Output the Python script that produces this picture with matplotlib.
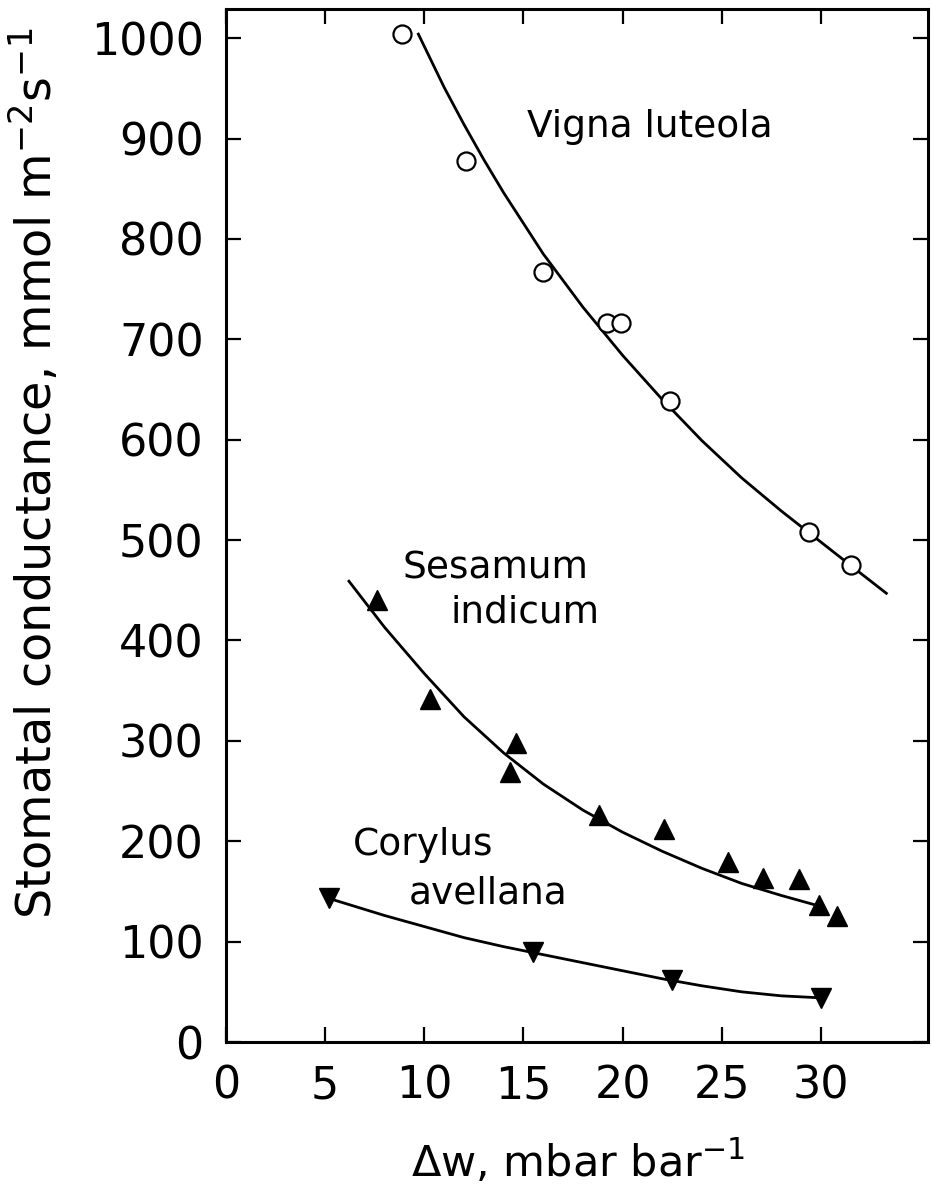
import matplotlib
matplotlib.use("Agg")
import matplotlib.pyplot as plt

# Vigna luteola (open circles) and its fitted curve
vigna_x = [8.9, 12.1, 16.0, 19.2, 19.9, 22.4, 29.4, 31.5]
vigna_y = [1004, 878, 767, 716, 716, 639, 508, 475]
vigna_fit_x = [9.7, 11, 12, 13, 14, 16, 18, 20, 22, 24, 26, 28, 30, 32, 33.3]
vigna_fit_y = [1004, 951, 914, 879, 846, 785, 732, 684, 640, 599, 562,
               529, 498, 467, 447]

# Sesamum indicum (filled up-triangles)
sesamum_x = [7.6, 10.3, 14.6, 14.3, 18.8, 22.1, 25.3, 27.1, 28.9, 29.9, 30.8]
sesamum_y = [440, 342, 298, 269, 226, 212, 179, 163, 162, 136, 126]
sesamum_fit_x = [6.2, 8, 10, 12, 14, 16, 18, 20, 22, 24, 26, 28, 30]
sesamum_fit_y = [459, 413, 367, 324, 288, 257, 231, 209, 190, 173, 158, 146, 135]

# Corylus avellana (filled down-triangles)
corylus_x = [5.2, 15.5, 22.5, 30.0]
corylus_y = [143, 90, 62, 44]
corylus_fit_x = [5.2, 8, 10, 12, 14, 16, 18, 20, 22, 24, 26, 28, 30]
corylus_fit_y = [143, 126, 115, 104, 95, 87, 79, 71, 63, 56, 50, 46, 44]

x_ticks = [0, 5, 10, 15, 20, 25, 30]
y_ticks = [0, 100, 200, 300, 400, 500, 600, 700, 800, 900, 1000]

plt.rcParams["font.family"] = "DejaVu Sans"
plt.rcParams["mathtext.fontset"] = "dejavusans"

fig = plt.figure(figsize=(9.32, 11.86), dpi=100)
ax = fig.add_axes([0.2425, 0.1214, 0.7532, 0.8710])

lw = 2.0
ax.plot(vigna_fit_x, vigna_fit_y, color="black", lw=lw, zorder=2)
ax.plot(sesamum_fit_x, sesamum_fit_y, color="black", lw=lw, zorder=2)
ax.plot(corylus_fit_x, corylus_fit_y, color="black", lw=lw, zorder=2)

ax.plot(vigna_x, vigna_y, "o", ms=13, mfc="white", mec="black", mew=1.6,
        zorder=3)
ax.plot(sesamum_x, sesamum_y, "^", ms=14, color="black", zorder=3)
ax.plot(corylus_x, corylus_y, "v", ms=14, color="black", zorder=3)

ax.set_xlim(0, 35.4)
ax.set_ylim(0, 1029)
ax.set_xticks(x_ticks)
ax.set_yticks(y_ticks)
ax.tick_params(direction="in", length=11, width=1.6, top=True, right=True,
               labeltop=False, labelright=False, labelsize=32, pad=16)
for sp in ax.spines.values():
    sp.set_linewidth(2.2)

txt = dict(fontsize=27, color="black", ha="left", va="baseline")
ax.text(15.2, 902, "Vigna luteola", **txt)
ax.text(8.9, 462, "Sesamum", **txt)
ax.text(11.3, 418, "indicum", **txt)
ax.text(6.4, 186, "Corylus", **txt)
ax.text(9.2, 138, "avellana", **txt)

fig.text(0.62, 0.008, "Δw, mbar bar$^{-1}$", fontsize=31, ha="center",
         va="baseline")
fig.text(0.038, 0.601, "Stomatal conductance, mmol m$^{-2}$s$^{-1}$",
         fontsize=34.5, rotation=90, ha="center", va="center")

fig.savefig("out.png", dpi=100)
